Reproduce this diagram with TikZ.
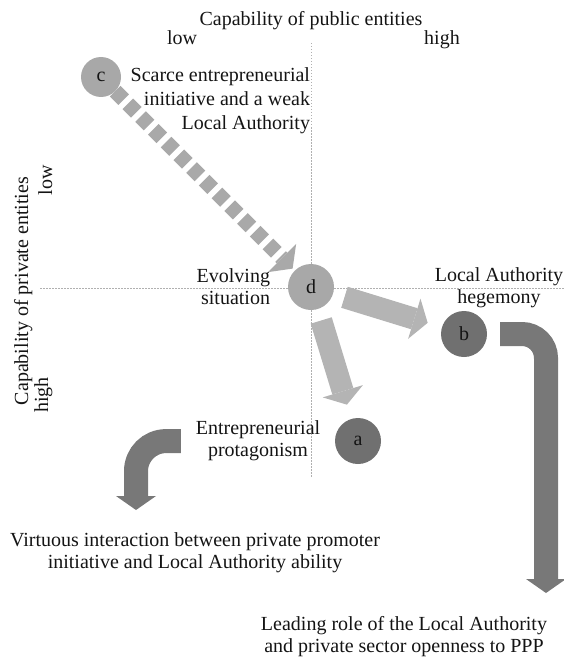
\documentclass[tikz,border=0pt]{standalone}
\usepackage{fontspec}
\setmainfont{Liberation Serif}
\usetikzlibrary{arrows.meta,calc}
\definecolor{circlight}{HTML}{A8A8A8}
\definecolor{circdark}{HTML}{707070}
\definecolor{arrlight}{HTML}{B4B4B4}
\definecolor{arrdash}{HTML}{A9A9A9}
\definecolor{arrdark}{HTML}{787878}
\definecolor{axisgray}{HTML}{B0B0B0}
\definecolor{txt}{HTML}{141414}
\begin{document}
\begin{tikzpicture}[x=1bp,y=-1bp,
  every node/.style={inner sep=0pt, outer sep=0pt, text=txt, font=\fontsize{20bp}{22bp}\selectfont},
  axis/.style={axisgray, line width=0.8bp, dash pattern=on 1.5bp off 1.5bp},
  circ/.style={circle, minimum size=46bp},
  straightarr/.style={arrlight, line width=22bp, -{Triangle[length=14bp,width=42bp,line width=0pt]}, shorten <=12bp, shorten >=15bp},
  dasharr/.style={arrdash, line width=15bp, dash pattern=on 12bp off 6bp, -{Triangle[length=15bp,width=40bp,line width=0pt]}, shorten >=3bp},
  bentarr/.style={arrdark, line width=24bp, -{Triangle[length=14bp,width=40bp,line width=0pt]}},
]
\useasboundingbox (0,0) rectangle (564,657);
% axes
\coordinate (vtop) at (311,43);
\coordinate (vbot) at (311,477);
\coordinate (hleft) at (40,288);
\coordinate (hright) at (564,288);
\draw[axis] (vtop) -- (vbot);
\draw[axis] (hleft) -- (hright);

% circles
\node[circ, minimum size=40bp, fill=circlight] (c) at (101,77) {c};
\node[circ, fill=circlight] (d) at (311,287) {d};
\node[circ, fill=circdark] (b) at (464,334) {b};
\node[circ, fill=circdark] (a) at (358,441) {a};

% arrows between states
\draw[dasharr] (c) -- (d);
\draw[straightarr] (d) -- (b);
\draw[straightarr] (d) -- (a);

% axis labels
\node[anchor=base] (ttl) at (311,26) {Capability of public entities};
\node[anchor=base] (tlow) at (182,45) {low};
\node[anchor=base] (thigh) at (442,45) {high};
\node[anchor=base, rotate=90] (ltl) at (28,291) {Capability of private entities};
\node[anchor=base, rotate=90] (llow) at (52,180) {low};
\node[anchor=base, rotate=90] (lhigh) at (48,395) {high};

% state labels
\node[anchor=north east, align=right, font=\fontsize{20bp}{24bp}\selectfont] (tc) at (310,68) {Scarce entrepreneurial\\initiative and a weak\\Local Authority};
\node[anchor=north east, align=right] (td) at (270,269) {Evolving\\situation};
\node[anchor=north, align=center] (tb) at (499,268) {Local Authority\\hegemony};
\node[anchor=north, align=center] (ta) at (258,421) {Entrepreneurial\\protagonism};
\node[anchor=north, align=center] (tv) at (195,533) {Virtuous interaction between private promoter\\initiative and Local Authority ability};
\node[anchor=north, align=center] (tl) at (404,616) {Leading role of the Local Authority\\and private sector openness to PPP};

% bent arrows
\coordinate (aEnd) at (136,510);
\coordinate (bEnd) at (546,593);
\draw[bentarr, rounded corners=30bp] ([xshift=-15bp]ta.west) -| (aEnd);
\draw[bentarr, rounded corners=24bp] ([xshift=13bp]b.east) -| (bEnd);
\end{tikzpicture}
\end{document}
